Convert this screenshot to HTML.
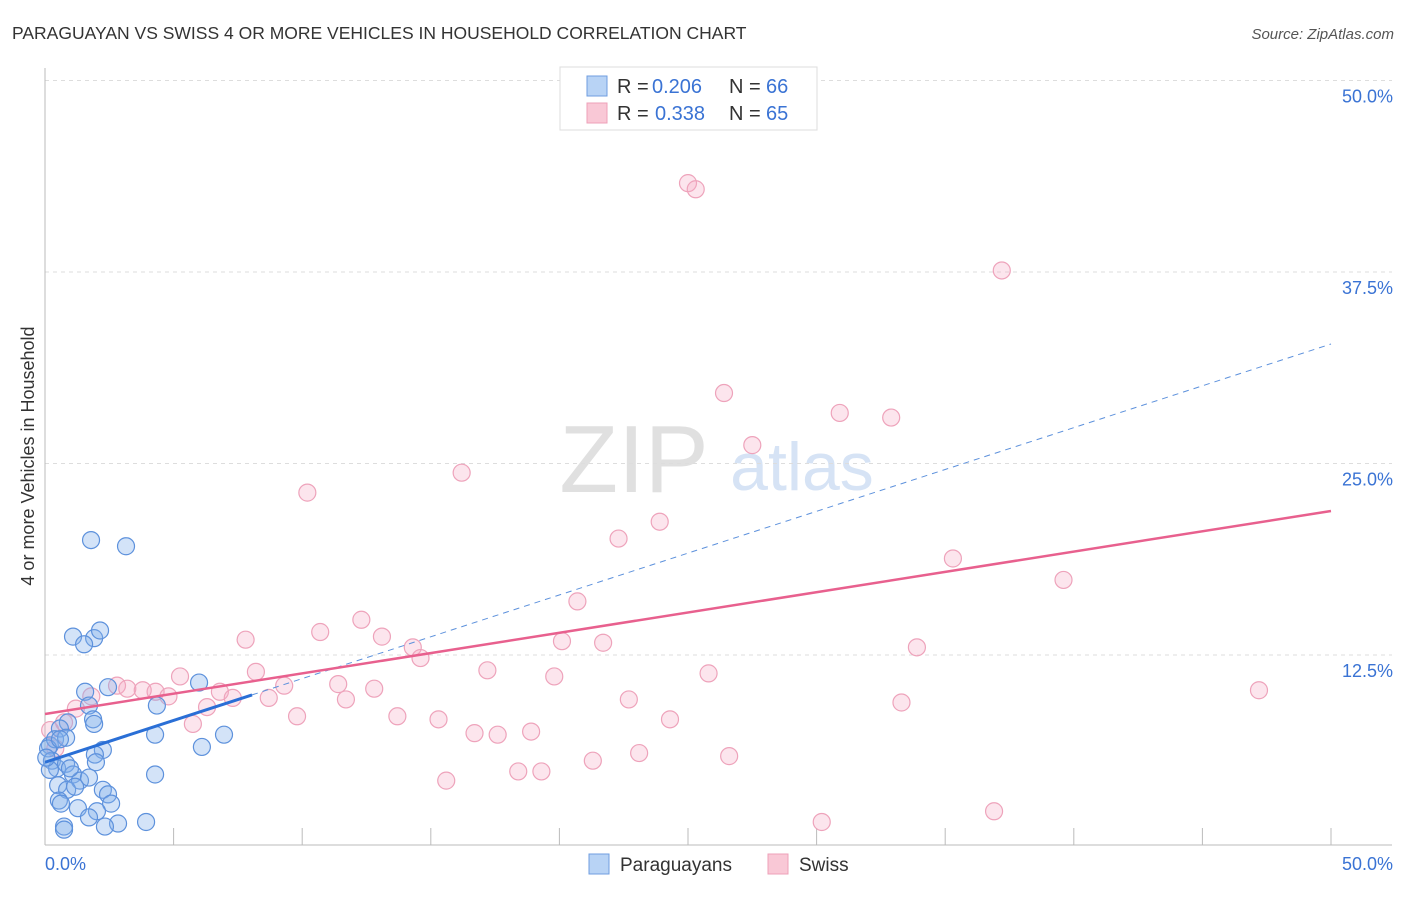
<!DOCTYPE html>
<html><head><meta charset="utf-8"><style>
body{margin:0;background:#fff;font-family:"Liberation Sans",sans-serif;}
svg text{font-family:"Liberation Sans",sans-serif;}
</style></head><body>
<svg id="c" width="1406" height="892">
<text x="12" y="39" font-size="17.5" fill="#333">PARAGUAYAN VS SWISS 4 OR MORE VEHICLES IN HOUSEHOLD CORRELATION CHART</text>
<text x="1394" y="39" font-size="15" fill="#555" font-style="italic" text-anchor="end">Source: ZipAtlas.com</text>
<text x="634" y="492" font-size="96" fill="#e0e0e0" font-family="Liberation Serif" text-anchor="middle">ZIP</text>
<text x="802" y="490" font-size="68" fill="#d6e3f5" text-anchor="middle">atlas</text>
<g id="grid"></g>
<g id="pts"></g>
<g id="lines"></g>
<text x="34" y="456" font-size="18" fill="#333" text-anchor="middle" transform="rotate(-90 34 456)">4 or more Vehicles in Household</text>
<g>
<rect x="560" y="67" width="257" height="63" fill="#fff" stroke="#ddd"/>
<rect x="587" y="76" width="20" height="20" fill="#b8d3f5" stroke="#6f9ee0"/>
<rect x="587" y="103" width="20" height="20" fill="#f9c8d6" stroke="#eea0b8"/>
<text x="617" y="93" font-size="20" fill="#333">R =</text>
<text x="652" y="93" font-size="20" fill="#3a73d4">0.206</text>
<text x="729" y="93" font-size="20" fill="#333">N =</text>
<text x="766" y="93" font-size="20" fill="#3a73d4">66</text>
<text x="617" y="120" font-size="20" fill="#333">R =</text>
<text x="655" y="120" font-size="20" fill="#3a73d4">0.338</text>
<text x="729" y="120" font-size="20" fill="#333">N =</text>
<text x="766" y="120" font-size="20" fill="#3a73d4">65</text>
</g>
<g>
<rect x="589" y="854" width="20" height="20" fill="#b8d3f5" stroke="#6f9ee0"/>
<text x="620" y="871" font-size="19" fill="#333">Paraguayans</text>
<rect x="768" y="854" width="20" height="20" fill="#f9c8d6" stroke="#eea0b8"/>
<text x="799" y="871" font-size="19" fill="#333">Swiss</text>
</g>
</svg>
<script>
const yTicks=[12.5,25,37.5,50];
const yTickLabels=["12.5%","25.0%","37.5%","50.0%"];
const xTickLabels=["0.0%","50.0%"];
const blueX=[1.79,3.15,1.09,1.91,2.14,1.52,5.99,4.35,2.45,1.56,1.71,1.87,1.91,0.89,4.28,6.96,6.10,2.25,1.94,1.98,4.28,0.58,0.19,0.39,0.12,0.82,0.58,0.27,0.47,0.82,1.09,1.36,1.71,0.51,0.86,1.17,2.25,2.45,0.54,0.62,2.57,1.28,2.02,1.71,2.84,3.93,2.33,0.74,0.74,0.19,0.97,0.05];
const blueY=[20.0,19.6,13.7,13.6,14.1,13.2,10.7,9.2,10.4,10.1,9.2,8.3,8.0,8.1,7.3,7.3,6.5,6.3,6.0,5.5,4.7,7.7,6.6,7.0,6.4,7.1,7.0,5.6,5.1,5.4,4.7,4.3,4.5,4.0,3.7,3.9,3.7,3.4,3.0,2.8,2.8,2.5,2.3,1.9,1.5,1.6,1.3,1.3,1.1,5.0,5.1,5.8];
const pinkX=[25.0,25.3,37.2,26.4,30.9,32.9,27.5,16.2,10.2,23.9,22.3,35.3,39.6,20.7,12.3,10.7,13.1,7.8,20.1,21.7,33.9,14.3,14.6,17.2,25.8,8.2,19.8,5.25,11.4,9.3,12.8,47.2,2.8,3.2,3.8,4.3,4.8,6.8,7.3,8.7,11.7,22.7,33.3,6.3,1.2,1.8,9.8,13.7,15.3,24.3,5.75,16.7,17.6,18.9,23.1,26.6,21.3,18.4,19.3,15.6,36.9,30.2,0.74,0.2,0.4];
const pinkY=[43.3,42.9,37.6,29.6,28.3,28.0,26.2,24.4,23.1,21.2,20.1,18.8,17.4,16.0,14.8,14.0,13.7,13.5,13.4,13.3,13.0,13.0,12.3,11.5,11.3,11.4,11.1,11.1,10.6,10.5,10.3,10.2,10.5,10.3,10.2,10.1,9.8,10.1,9.7,9.7,9.6,9.6,9.4,9.1,9.0,9.8,8.5,8.5,8.3,8.3,8.0,7.4,7.3,7.5,6.1,5.9,5.6,4.9,4.9,4.3,2.3,1.6,8.1,7.6,6.4];
const blueTrend=[5.5,32.8];
const blueSolidEnd=8.05;
const pinkTrend=[8.65,21.9];
const NS="http://www.w3.org/2000/svg";
const sx=v=>45+v/50*1286;
const sy=v=>846.5-v/12.5*191.5;
function mk(tag,attrs,parent){const e=document.createElementNS(NS,tag);for(const k in attrs)e.setAttribute(k,attrs[k]);parent.appendChild(e);return e;}
const grid=document.getElementById('grid'),pts=document.getElementById('pts'),lines=document.getElementById('lines');
yTicks.forEach((t,i)=>{
 const l=mk('line',{x1:45,x2:1392,y1:sy(t),y2:sy(t),stroke:'#ddd','stroke-dasharray':'4,4'},grid);
 
 
 const tx=mk('text',{x:1393,y:sy(t)+22,'font-size':18,fill:'#3a73d4','text-anchor':'end'},grid);
 tx.textContent=yTickLabels[i];
 
 
});
const ax=mk('line',{x1:45,x2:1392,y1:845,y2:845,stroke:'#bbb'},grid);


const ay=mk('line',{x1:45,x2:45,y1:68,y2:845,stroke:'#bbb'},grid);


for(let i=1;i<=10;i++){const t=mk('line',{x1:sx(i*5),x2:sx(i*5),y1:828,y2:845,stroke:'#bbb'},grid);
 
 }
xTickLabels.forEach((s,i)=>{const t=mk('text',{x:i?1393:45,y:870,'font-size':18,fill:'#3a73d4','text-anchor':i?'end':'start'},grid);t.textContent=s;
 
 });
pinkX.forEach((x,i)=>{const c=mk('circle',{cx:sx(x),cy:sy(pinkY[i]),r:8.5,fill:'rgba(244,170,195,0.3)',stroke:'#eea3bb','stroke-width':1.2},pts);
 
 });
blueX.forEach((x,i)=>{const c=mk('circle',{cx:sx(x),cy:sy(blueY[i]),r:8.5,fill:'rgba(130,175,235,0.35)',stroke:'#5d91dc','stroke-width':1.2},pts);
 
 });
const by=x=>blueTrend[0]+(blueTrend[1]-blueTrend[0])*x/50;
const d=mk('line',{x1:sx(blueSolidEnd),y1:sy(by(blueSolidEnd)),x2:sx(50),y2:sy(by(50)),stroke:'#5d91dc','stroke-dasharray':'6,5','stroke-width':1},lines);


const b=mk('line',{x1:sx(0),y1:sy(by(0)),x2:sx(blueSolidEnd),y2:sy(by(blueSolidEnd)),stroke:'#2a6fd6','stroke-width':3},lines);


const p=mk('line',{x1:sx(0),y1:sy(pinkTrend[0]),x2:sx(50),y2:sy(pinkTrend[1]),stroke:'#e8608e','stroke-width':2.5},lines);


</script>
</body></html>
